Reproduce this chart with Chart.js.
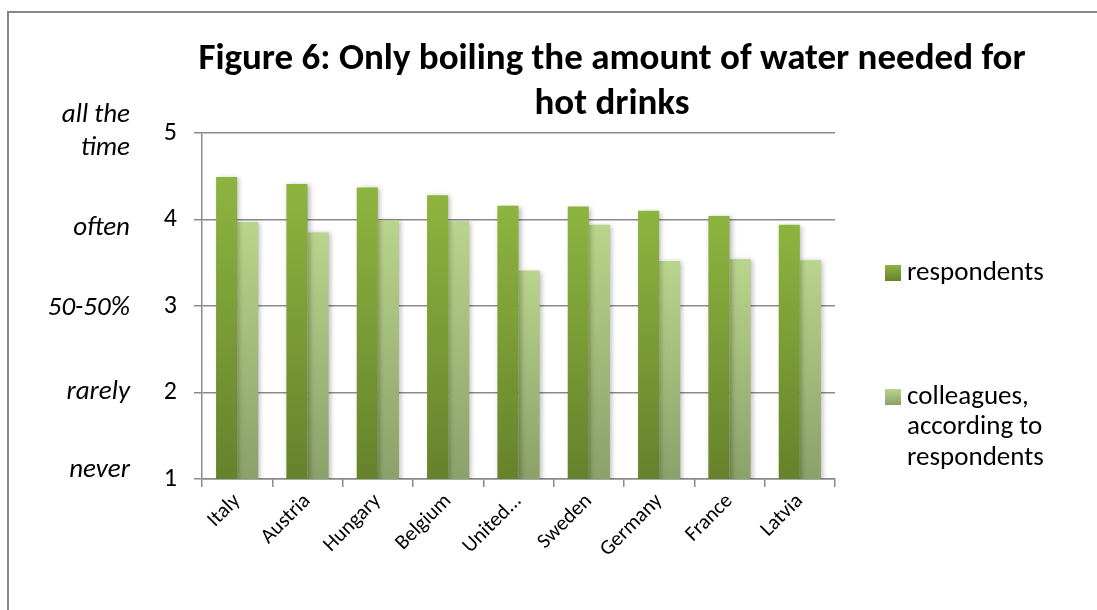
<!DOCTYPE html>
<html>
<head>
<meta charset="utf-8">
<script src="https://cdn.jsdelivr.net/npm/chart.js@4.4.1/dist/chart.umd.min.js"></script>
<style>
  html, body { margin: 0; padding: 0; background: #fff; }
  #wrap { width: 1097px; height: 610px; position: relative; }
</style>
</head>
<body>
<div id="wrap"><canvas id="myChart" width="1097" height="610"></canvas></div>
<script>
// data
const categories = ['Italy', 'Austria', 'Hungary', 'Belgium', 'United...', 'Sweden', 'Germany', 'France', 'Latvia'];
const respondents = [4.49, 4.41, 4.37, 4.28, 4.16, 4.15, 4.10, 4.04, 3.94];
const colleagues = [3.97, 3.85, 3.99, 3.98, 3.41, 3.94, 3.52, 3.54, 3.53];
const yTicks = [1, 2, 3, 4, 5];
const yTickNames = ['never', 'rarely', '50-50%', 'often', ['all the', 'time']];
const seriesNames = ['respondents', ['colleagues,', 'according to', 'respondents']];
const titleLines = ['Figure 6: Only boiling the amount of water needed for', 'hot drinks'];

const FONT = 'Carlito, Calibri, Lato, "Open Sans", sans-serif';
const gridColor = '#8a8a8a';

// gradient running from the top of each bar down to the axis
function barGradient(top, bottom) {
    return (ctx) => {
        const chart = ctx.chart;
        if (!chart.chartArea || ctx.type !== 'data') return bottom;
        const y = chart.scales.y;
        const g = chart.ctx.createLinearGradient(0, y.getPixelForValue(ctx.raw), 0, y.getPixelForValue(y.min));
        g.addColorStop(0, top);
        g.addColorStop(1, bottom);
        return g;
    };
}

const frame = {
    id: 'frame',
    beforeDraw(chart) {
        const c = chart.ctx;
        c.save();
        c.fillStyle = '#fff';
        c.fillRect(0, 0, chart.width, chart.height);
        c.strokeStyle = '#878787';
        c.lineWidth = 2;
        c.beginPath();
        c.moveTo(8, chart.height);
        c.lineTo(8, 12);
        c.lineTo(chart.width, 12);
        c.stroke();
        c.restore();
    }
};

const shadow = {
    id: 'shadow',
    beforeDatasetsDraw(chart) {
        const c = chart.ctx;
        c.save();
        c.shadowColor = 'rgba(0,0,0,0.28)';
        c.shadowBlur = 5;
        c.shadowOffsetX = 2;
        c.shadowOffsetY = 1;
    },
    afterDatasetsDraw(chart) {
        chart.ctx.restore();
    }
};

const extras = {
    id: 'extras',
    afterDraw(chart) {
        const c = chart.ctx;
        const area = chart.chartArea;
        const y = chart.scales.y;
        c.save();
        c.fillStyle = '#000';

        // title
        c.font = 'bold 37px ' + FONT;
        c.textAlign = 'center';
        c.textBaseline = 'middle';
        c.fillText(titleLines[0], 612, 60);
        c.fillText(titleLines[1], 612, 105);

        // italic names beside the y ticks
        const nudge = [-9, 0, 2, 9, -1];
        c.font = 'italic 27px ' + FONT;
        c.textAlign = 'right';
        yTicks.forEach((v, i) => {
            const lines = [].concat(yTickNames[i]);
            const cy = y.getPixelForValue(v) + nudge[i];
            lines.forEach((t, k) => {
                c.fillText(t, area.left - 72, cy + (k - (lines.length - 1) / 2) * 33);
            });
        });

        // legend
        const items = [
            { name: seriesNames[0], top: '#8db43f', bottom: '#66822c', cy: 273 },
            { name: seriesNames[1], top: '#b9d48b', bottom: '#8aa169', cy: 397 }
        ];
        c.font = '27px ' + FONT;
        c.textAlign = 'left';
        items.forEach(it => {
            const sx = area.right + 50;
            const g = c.createLinearGradient(0, it.cy - 8, 0, it.cy + 8);
            g.addColorStop(0, it.top);
            g.addColorStop(1, it.bottom);
            c.fillStyle = g;
            c.fillRect(sx, it.cy - 8, 16, 16);
            c.fillStyle = '#000';
            [].concat(it.name).forEach((t, k) => {
                c.fillText(t, sx + 22, it.cy + k * 30.5);
            });
        });
        c.restore();
    }
};

new Chart(document.getElementById('myChart').getContext('2d'), {
    type: 'bar',
    data: {
        labels: categories,
        datasets: [{
            label: 'respondents',
            data: respondents,
            backgroundColor: barGradient('#8db43f', '#66822c'),
            categoryPercentage: 0.6,
            barPercentage: 1.0
        }, {
            label: 'colleagues, according to respondents',
            data: colleagues,
            backgroundColor: barGradient('#b9d48b', '#8aa169'),
            categoryPercentage: 0.6,
            barPercentage: 1.0
        }]
    },
    options: {
        responsive: false,
        animation: false,
        layout: { padding: { left: 128, right: 262, top: 133, bottom: 0 } },
        plugins: {
            legend: { display: false },
            title: { display: false },
            tooltip: { enabled: false }
        },
        scales: {
            x: {
                grid: { offset: true, drawOnChartArea: false, drawTicks: true, tickLength: 8, color: gridColor, lineWidth: 1.5 },
                border: { color: gridColor, width: 1.5 },
                ticks: { color: '#000', font: { family: FONT, size: 21 }, minRotation: 45, maxRotation: 45, padding: 2 },
                afterFit(scale) { scale.height = 131; }
            },
            y: {
                min: 1,
                max: 5,
                ticks: { stepSize: 1, color: '#000', font: { family: FONT, size: 26 }, padding: 17 },
                grid: { color: gridColor, lineWidth: 1.5, tickLength: 8 },
                border: { color: gridColor, width: 1.5 },
                afterFit(scale) { scale.width = 74; }
            }
        }
    },
    plugins: [frame, shadow, extras]
});
</script>
</body>
</html>
